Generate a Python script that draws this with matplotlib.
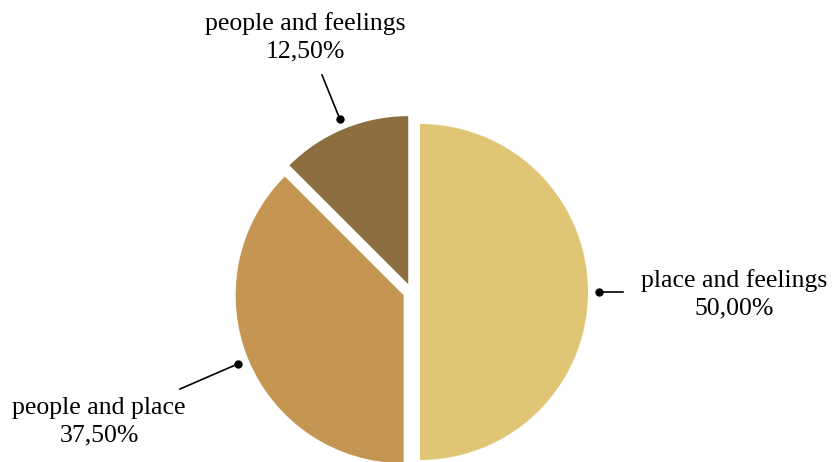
import numpy as np
import matplotlib.pyplot as plt

# data
labels = ['place and feelings', 'people and place', 'people and feelings']
shares = [50.0, 37.5, 12.5]
colors = ['#E0C674', '#C49652', '#8C6E40']

# label text anchors (pixel layout, origin bottom-left) and line ends
text_xy = [(734, 168), (99, 40), (305, 425)]
line_end = [(623, None), (180, 73), (322, 387)]

W, H = 839, 462
fig = plt.figure(figsize=(W / 100, H / 100), dpi=100)
ax = fig.add_axes([0, 0, 1, 1])

cx, cy, r = 411.5, 170, 168
gap = 8.5  # explode is in data units here
explode = [gap] * len(shares)
wedges, _ = ax.pie(shares, colors=colors, startangle=90, counterclock=False,
                   radius=r, center=(cx, cy), explode=explode,
                   wedgeprops=dict(linewidth=0))

for w, lab, val, (tx, ty), (lx, ly) in zip(wedges, labels, shares, text_xy, line_end):
    mid = np.deg2rad((w.theta1 + w.theta2) / 2)
    ox, oy = w.center
    px = ox + 1.065 * r * np.cos(mid)
    py = oy + 1.065 * r * np.sin(mid)
    if ly is None:
        ly = py
    ax.plot([px, lx], [py, ly], color='black', lw=1.2)
    ax.plot(px, py, 'o', color='black', ms=5)
    txt = f"{lab}\n{val:.2f}%".replace('.', ',')
    ax.text(tx, ty, txt, ha='center', va='center', multialignment='center',
            fontsize=18.5, family='Liberation Serif', linespacing=1.3)

ax.set_xlim(0, W)
ax.set_ylim(0, H)
ax.set_aspect('equal')
ax.axis('off')

fig.savefig('out.png', dpi=100)
